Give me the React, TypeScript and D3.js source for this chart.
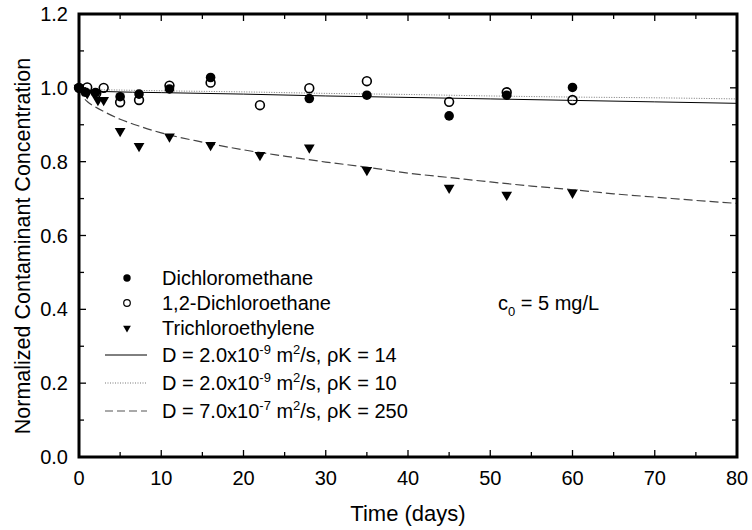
import React from "react";
import * as d3 from "d3";

const timesDCM = [0, 0.8, 2, 5, 7.3, 11, 16, 28, 35, 45, 52, 60];
const valuesDCM = [1.0, 0.988, 0.987, 0.976, 0.983, 0.997, 1.028, 0.971, 0.98, 0.924, 0.98, 1.001];

const timesDCA = [0, 1, 2.1, 3, 5, 7.3, 11, 16, 22, 28, 35, 45, 52, 60];
const valuesDCA = [1.0, 1.001, 0.985, 1.0, 0.961, 0.967, 1.006, 1.014, 0.953, 0.999, 1.018, 0.962, 0.988, 0.967];

const timesTCE = [0, 1, 2.3, 3, 5, 7.3, 11, 16, 22, 28, 35, 45, 52, 60];
const valuesTCE = [1.0, 0.985, 0.967, 0.967, 0.883, 0.842, 0.868, 0.845, 0.818, 0.838, 0.777, 0.729, 0.71, 0.716];

const modelTimesA = [0, 0.5, 1, 3, 10, 20, 30, 40, 50, 60, 70, 80];
const modelValuesA = [1.0, 0.995, 0.992, 0.99, 0.987, 0.983, 0.978, 0.974, 0.97, 0.966, 0.962, 0.958];

const modelTimesB = [0, 1, 5, 10, 20, 30, 40, 50, 60, 70, 80];
const modelValuesB = [1.0, 0.996, 0.994, 0.992, 0.989, 0.985, 0.982, 0.978, 0.975, 0.973, 0.97];

const modelTimesC = [0, 0.5, 1, 2, 3, 5, 7.5, 10, 15, 20, 25, 30, 35, 40, 45, 50, 55, 60, 65, 70, 75, 80];
const modelValuesC = [1.0, 0.975, 0.963, 0.948, 0.936, 0.915, 0.895, 0.878, 0.853, 0.832, 0.815, 0.799, 0.785, 0.769, 0.757, 0.745, 0.734, 0.724, 0.713, 0.704, 0.695, 0.687];

const xMajorTicks = [0, 10, 20, 30, 40, 50, 60, 70, 80];
const yMajorTicks = [0, 0.2, 0.4, 0.6, 0.8, 1.0, 1.2];

const seriesLabels = ["Dichloromethane", "1,2-Dichloroethane", "Trichloroethylene"];

const W = 752;
const H = 530;
const L = 79, R = 737, T = 14, B = 457;
const FONT = "'Liberation Sans', Arial, sans-serif";
const FS = 20;

export default function App() {
  const x = d3.scaleLinear().domain([0, 80]).range([L, R]);
  const y = d3.scaleLinear().domain([0, 1.2]).range([B, T]);

  const zip = (ts: number[], vs: number[]) => ts.map((t, i) => [t, vs[i]] as [number, number]);
  const line = d3.line<[number, number]>().x(d => x(d[0])).y(d => y(d[1])).curve(d3.curveMonotoneX);

  const xMinor = d3.range(0, 80.01, 5);
  const yMinor = d3.range(0, 1.2001, 0.1);

  const tri = d3.symbol().type(d3.symbolTriangle).size(50);
  const triSmall = d3.symbol().type(d3.symbolTriangle).size(26);

  const legendLines = [
    { dash: undefined, color: "#000", width: 1, exp: "-9", tail: "14", d: "2.0" },
    { dash: "1,1.5", color: "#777", width: 1, exp: "-9", tail: "10", d: "2.0" },
    { dash: "8,4", color: "#555", width: 1.2, exp: "-7", tail: "250", d: "7.0" },
  ];
  const legendRowsY = [278, 303, 328, 355, 383, 411];

  return (
    <svg width={W} height={H} style={{ position: "absolute", left: 0, top: 0, background: "#fff" }} fontFamily={FONT}>
      <rect x={0} y={0} width={W} height={H} fill="#fff" />
      {/* model curves */}
      <path d={line(zip(modelTimesB, modelValuesB)) || ""} fill="none" stroke="#777" strokeWidth={1} strokeDasharray="1,1.5" />
      <path d={line(zip(modelTimesA, modelValuesA)) || ""} fill="none" stroke="#000" strokeWidth={1} />
      <path d={line(zip(modelTimesC, modelValuesC)) || ""} fill="none" stroke="#444" strokeWidth={1.2} strokeDasharray="9,4" />

      {/* data */}
      {zip(timesTCE, valuesTCE).map((d, i) => (
        <path key={"t" + i} d={tri() || ""} transform={`translate(${x(d[0])},${y(d[1])}) rotate(180)`} fill="#000" />
      ))}
      {zip(timesDCM, valuesDCM).map((d, i) => (
        <circle key={"m" + i} cx={x(d[0])} cy={y(d[1])} r={4.8} fill="#000" />
      ))}
      {zip(timesDCA, valuesDCA).map((d, i) => (
        <circle key={"a" + i} cx={x(d[0])} cy={y(d[1])} r={4.4} fill="none" stroke="#000" strokeWidth={1.6} />
      ))}

      {/* ticks */}
      {xMinor.map((t, i) => {
        const major = Math.abs(t % 10) < 1e-6;
        const len = major ? 7 : 5;
        return (
          <g key={"xt" + i}>
            <line x1={x(t)} x2={x(t)} y1={B} y2={B - len} stroke="#000" strokeWidth={1.3} />
            <line x1={x(t)} x2={x(t)} y1={T} y2={T + len} stroke="#000" strokeWidth={1.3} />
          </g>
        );
      })}
      {yMinor.map((v, i) => {
        const major = i % 2 === 0;
        const len = major ? 7 : 5;
        return (
          <g key={"yt" + i}>
            <line x1={L} x2={L + len} y1={y(v)} y2={y(v)} stroke="#000" strokeWidth={1.3} />
            <line x1={R} x2={R - len} y1={y(v)} y2={y(v)} stroke="#000" strokeWidth={1.3} />
          </g>
        );
      })}

      {/* frame */}
      <rect x={L} y={T} width={R - L} height={B - T} fill="none" stroke="#000" strokeWidth={3} />

      {/* tick labels */}
      {xMajorTicks.map(t => (
        <text key={"xl" + t} x={x(t)} y={485} textAnchor="middle" fontSize={FS} fill="#000">{t}</text>
      ))}
      {yMajorTicks.map(v => (
        <text key={"yl" + v} x={68} y={y(v) + 7} textAnchor="end" fontSize={FS} fill="#000">{v.toFixed(1)}</text>
      ))}

      {/* axis titles */}
      <text x={(L + R) / 2} y={521} textAnchor="middle" fontSize={22} fill="#000">Time (days)</text>
      <text transform={`translate(23,246) rotate(-90)`} textAnchor="middle" dominantBaseline="central" fontSize={21.5} fill="#000">Normalized Contaminant Concentration</text>

      {/* legend */}
      <circle cx={127} cy={legendRowsY[0]} r={3.7} fill="#000" />
      <circle cx={127} cy={legendRowsY[1]} r={3.3} fill="none" stroke="#000" strokeWidth={1.2} />
      <path d={triSmall() || ""} transform={`translate(127,${legendRowsY[2]}) rotate(180)`} fill="#000" />
      {seriesLabels.map((s, i) => (
        <text key={"ls" + i} x={162} y={legendRowsY[i] + 7} fontSize={FS} fill="#000">{s}</text>
      ))}
      {legendLines.map((l, i) => (
        <g key={"ll" + i}>
          <line x1={105} x2={147} y1={legendRowsY[3 + i]} y2={legendRowsY[3 + i]} stroke={l.color} strokeWidth={l.width} strokeDasharray={l.dash} />
          <text x={162} y={legendRowsY[3 + i] + 7} fontSize={FS} fill="#000">
            {`D = ${l.d}x10`}
            <tspan dy={-8} fontSize={13}>{l.exp}</tspan>
            <tspan dy={8}>{" m"}</tspan>
            <tspan dy={-8} fontSize={13}>2</tspan>
            <tspan dy={8}>{`/s, ρK = ${l.tail}`}</tspan>
          </text>
        </g>
      ))}

      <text x={498} y={310} fontSize={FS} fill="#000">
        c<tspan dy={6} fontSize={13}>0</tspan><tspan dy={-6}>{" = 5 mg/L"}</tspan>
      </text>
    </svg>
  );
}
